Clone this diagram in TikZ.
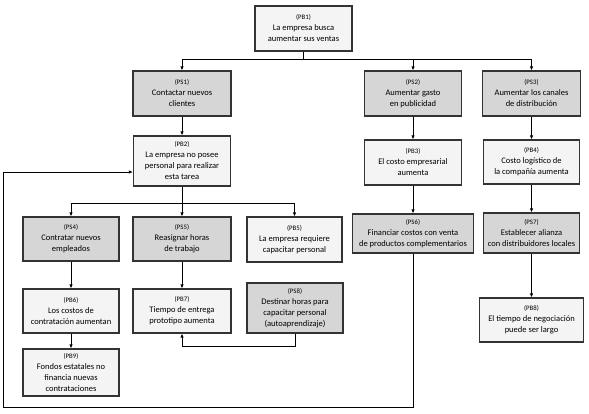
\documentclass[tikz,border=0pt]{standalone}
\usepackage{fontspec}
\setmainfont{Carlito}
\usetikzlibrary{arrows.meta}
\definecolor{psfill}{HTML}{D6D6D6}
\definecolor{pbfill}{HTML}{F4F4F4}
\definecolor{edge}{HTML}{333333}
\newcommand\tg[1]{{\fontsize{6.8}{8}\selectfont #1}}
\begin{document}
\begin{tikzpicture}[x=1pt,y=-1pt,
  box/.style={draw=edge, line width=1.2pt, align=center, inner sep=1pt,
    font=\fontsize{8.5}{11}\selectfont, anchor=center},
  pb/.style={box, fill=pbfill},
  ps/.style={box, fill=psfill},
  arr/.style={draw=black, line width=0.8pt, -{Latex[length=4pt,width=3.5pt]}},
  ln/.style={draw=black, line width=0.8pt}]
\useasboundingbox (0,0) rectangle (589,414);
% nodes
\node[pb, minimum width=97pt, minimum height=45pt] (pb1) at (303.5,28.5) {\tg{(PB1)}\\La empresa busca\\aumentar sus ventas};
\node[ps, minimum width=98pt, minimum height=45pt] (ps1) at (182,93.5) {\tg{(PS1)}\\Contactar nuevos\\clientes};
\node[ps, minimum width=97pt, minimum height=45pt] (ps2) at (413,93.5) {\tg{(PS2)}\\Aumentar gasto\\en publicidad};
\node[ps, minimum width=98pt, minimum height=45pt] (ps3) at (531.5,93.5) {\tg{(PS3)}\\Aumentar los canales\\de distribución};
\node[pb, minimum width=97pt, minimum height=50pt] (pb2) at (182,161) {\tg{(PB2)}\\La empresa no posee\\personal para realizar\\esta tarea};
\node[pb, minimum width=97pt, minimum height=45pt] (pb3) at (413,162.5) {\tg{(PB3)}\\El costo empresarial\\aumenta};
\node[pb, minimum width=96pt, minimum height=44pt] (pb4) at (531.5,162) {\tg{(PB4)}\\Costo logístico de\\la compañía aumenta};
\node[ps, minimum width=96pt, minimum height=44pt] (ps4) at (71,239) {\tg{(PS4)}\\Contratar nuevos\\empleados};
\node[ps, minimum width=98pt, minimum height=44pt] (ps5) at (182,239) {\tg{(PS5)}\\Reasignar horas\\de trabajo};
\node[pb, minimum width=95pt, minimum height=45pt] (pb5) at (294.5,239.5) {\tg{(PB5)}\\La empresa requiere\\capacitar personal};
\node[ps, minimum width=121pt, minimum height=39pt] (ps6) at (413,233.5) {\tg{(PS6)}\\Financiar costos con venta\\de productos complementarios};
\node[ps, minimum width=96pt, minimum height=40pt] (ps7) at (531.5,233) {\tg{(PS7)}\\Establecer alianza\\con distribuidores locales};
\node[pb, minimum width=96pt, minimum height=44pt] (pb6) at (71,311) {\tg{(PB6)}\\Los costos de\\contratación aumentan};
\node[pb, minimum width=98pt, minimum height=44pt] (pb7) at (182,311) {\tg{(PB7)}\\Tiempo de entrega\\prototipo aumenta};
\node[ps, minimum width=96pt, minimum height=50pt] (ps8) at (295,308) {\tg{(PS8)}\\Destinar horas para\\capacitar personal\\(autoaprendizaje)};
\node[pb, minimum width=96pt, minimum height=47pt] (pb9) at (71,372.5) {\tg{(PB9)}\\Fondos estatales no\\financia nuevas\\contrataciones};
\node[pb, minimum width=104pt, minimum height=44pt] (pb8) at (531.5,320) {\tg{(PB8)}\\El tiempo de negociación\\puede ser largo};
% connectors
\draw[ln] (pb1.south) -- ++(0,8) coordinate (bus1);
\draw[arr] (bus1) -| (ps1.north);
\draw[arr] (bus1) -| (ps2.north);
\draw[arr] (bus1) -| (ps3.north);
\draw[arr] (ps1) -- (pb2);
\draw[arr] (ps2) -- (pb3);
\draw[arr] (ps3) -- (pb4);
\draw[ln] (pb2.south) -- ++(0,17) coordinate (bus2);
\draw[arr] (bus2) -| (ps4.north);
\draw[arr] (bus2) -- (ps5.north);
\draw[arr] (bus2) -| (pb5.north);
\draw[arr] (pb3) -- (ps6);
\draw[arr] (pb4) -- (ps7);
\draw[arr] (ps7) -- (pb8);
\draw[arr] (ps4) -- (pb6);
\draw[arr] (pb6) -- (pb9);
\draw[arr] (ps5) -- (pb7);
\draw[arr] (ps8.south) -- ++(0,13) -| (pb7.south);
\coordinate (loopA) at (413,407);
\coordinate (loopB) at (3,407);
\draw[arr] (ps6.south) -- (loopA) -- (loopB) |- ([yshift=-11pt]pb2.west);
\end{tikzpicture}
\end{document}
